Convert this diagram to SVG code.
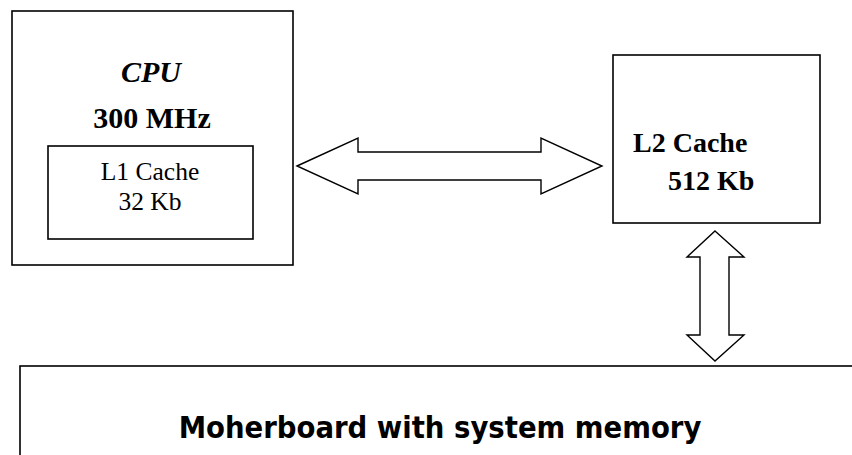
<svg xmlns="http://www.w3.org/2000/svg" width="852" height="455" viewBox="0 0 852 455">
<style>
.box{fill:#fff;stroke:#000;stroke-width:1.6}
.arrow{fill:#fff;stroke:#000;stroke-width:1.4;stroke-linejoin:miter}
.serif{font-family:"Liberation Serif","Times New Roman",serif;fill:#000}
.b{font-weight:bold}
.sans{font-family:"DejaVu Sans Condensed","DejaVu Sans",sans-serif;font-stretch:condensed;font-weight:bold;fill:#000}
</style>
<rect width="852" height="455" fill="#fff"/>
<g id="cpu">
<rect class="box" x="12" y="11" width="281" height="254"/>
<text class="serif b" x="151" y="82" font-size="30" font-style="italic" text-anchor="middle">CPU</text>
<text class="serif b" x="152" y="128" font-size="30" text-anchor="middle">300 MHz</text>
</g>
<g id="l1">
<rect class="box" x="48" y="146" width="205" height="93"/>
<text class="serif" x="150" y="180" font-size="25.5" text-anchor="middle">L1 Cache</text>
<text class="serif" x="150" y="210" font-size="25.5" text-anchor="middle">32 Kb</text>
</g>
<g id="l2">
<rect class="box" x="613" y="55" width="207" height="168"/>
<text class="serif b" x="633" y="152" font-size="28">L2 Cache</text>
<text class="serif b" x="668" y="190" font-size="28">512 Kb</text>
</g>
<g id="motherboard">
<rect class="box" x="20" y="366" width="900" height="200"/>
<text class="sans" x="440" y="438" font-size="30.6" text-anchor="middle">Moherboard with system memory</text>
</g>
<g id="connectors">
<polygon class="arrow" points="297,166 358,138 358,152 541,152 541,138 602,166 541,194 541,180 358,180 358,194"/>
<polygon class="arrow" points="715,231 744,257 729,257 729,335 744,335 715,361 687,335 700,335 700,257 687,257"/>
</g>
</svg>
